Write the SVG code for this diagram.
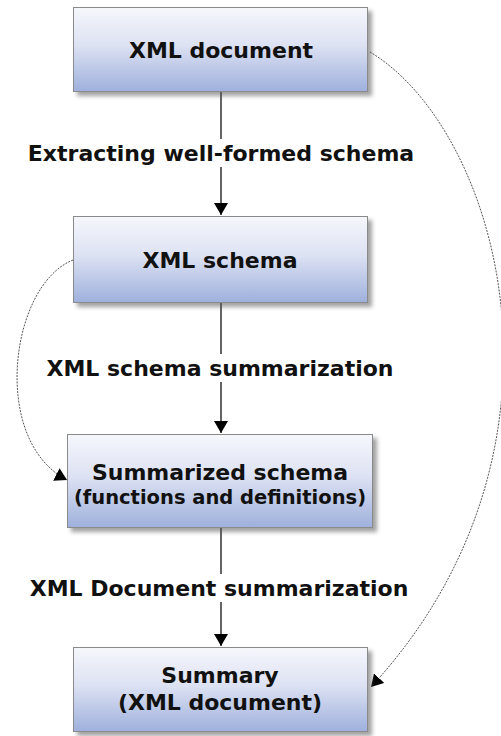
<svg xmlns="http://www.w3.org/2000/svg" width="501" height="736" viewBox="0 0 501 736">
  <style>
    .box { fill: url(#boxFill); stroke: #8a8a8a; stroke-width: 1; }
    .shadow { fill: #555; opacity: 0.55; filter: url(#soft); }
    .t { font-family: "DejaVu Sans", Verdana, sans-serif; font-weight: bold; font-size: 22px; fill: #111; text-anchor: middle; dominant-baseline: central; }
    .t.sub { font-size: 19.5px; }
    .flow { stroke: #111; stroke-width: 1.3; fill: none; }
    .link { stroke: #555; stroke-width: 1; stroke-dasharray: 2 1.2; fill: none; }
    .lbl { fill: #fff; }
  </style>
  <defs>
    <linearGradient id="boxFill" x1="0" y1="0" x2="0" y2="1">
      <stop offset="0" stop-color="#f6f7fc"/>
      <stop offset="0.45" stop-color="#dde2f3"/>
      <stop offset="1" stop-color="#9eb0dc"/>
    </linearGradient>
    <filter id="soft" x="-10%" y="-20%" width="120%" height="140%">
      <feGaussianBlur stdDeviation="2"/>
    </filter>
    <marker id="head" viewBox="0 0 12 14" refX="12" refY="7" markerWidth="12" markerHeight="14" markerUnits="userSpaceOnUse" orient="auto">
      <path d="M0,0 L12,7 L0,14 Z" fill="#000"/>
    </marker>
  </defs>

  <!-- connectors -->
  <g id="connectors">
    <line class="flow" x1="221" y1="92" x2="221" y2="215" marker-end="url(#head)"/>
    <line class="flow" x1="221" y1="303" x2="221" y2="433" marker-end="url(#head)"/>
    <line class="flow" x1="221" y1="528" x2="221" y2="646" marker-end="url(#head)"/>
    <path class="link" d="M370,52 C500,130 590,450 371,687" marker-end="url(#head)"/>
    <path class="link" d="M73,260 C10,285 -10,440 67,480" marker-end="url(#head)"/>
  </g>

  <!-- edge labels -->
  <g id="edge-labels">
    <rect class="lbl" x="24" y="139" width="394" height="28"/>
    <text class="t" x="221" y="153">Extracting well-formed schema</text>
    <rect class="lbl" x="44" y="354" width="352" height="28"/>
    <text class="t" x="220" y="368">XML schema summarization</text>
    <rect class="lbl" x="28" y="574" width="382" height="28"/>
    <text class="t" x="219" y="588">XML Document summarization</text>
  </g>

  <g id="xml-document">
    <rect class="shadow" x="77" y="11" width="295" height="85"/>
    <rect class="box" x="73.5" y="7.5" width="294" height="84"/>
    <text class="t" x="221" y="50">XML document</text>
  </g>

  <g id="xml-schema">
    <rect class="shadow" x="77" y="220" width="295" height="87"/>
    <rect class="box" x="73.5" y="216.5" width="294" height="86"/>
    <text class="t" x="220" y="260">XML schema</text>
  </g>

  <g id="summarized-schema">
    <rect class="shadow" x="71" y="438" width="306" height="94"/>
    <rect class="box" x="67.5" y="434.5" width="305" height="93"/>
    <text class="t" x="220" y="472">Summarized schema</text>
    <text class="t sub" x="220" y="497">(functions and definitions)</text>
  </g>

  <g id="summary">
    <rect class="shadow" x="77" y="651" width="295" height="85"/>
    <rect class="box" x="73.5" y="647.5" width="294" height="84"/>
    <text class="t" x="220" y="675">Summary</text>
    <text class="t" x="220" y="702">(XML document)</text>
  </g>
</svg>
